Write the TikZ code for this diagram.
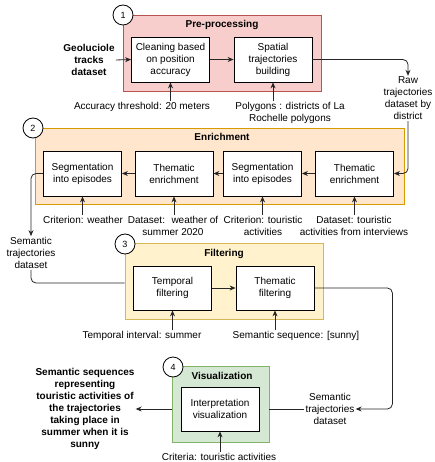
\documentclass[tikz,border=0pt]{standalone}
\usepackage{fontspec}
\setmainfont{Liberation Sans}
\usetikzlibrary{arrows.meta,calc}
\definecolor{prefill}{HTML}{F8CECC}\definecolor{predraw}{HTML}{B85450}
\definecolor{enrfill}{HTML}{FFE6CC}\definecolor{enrdraw}{HTML}{D79B00}
\definecolor{filfill}{HTML}{FFF2CC}\definecolor{fildraw}{HTML}{D6B656}
\definecolor{visfill}{HTML}{D5E8D4}\definecolor{visdraw}{HTML}{82B366}
\tikzset{
  grp/.style={draw=#1draw, fill=#1fill, line width=0.7pt, minimum width=198pt, minimum height=76pt, inner sep=0pt},
  proc/.style={draw=black, fill=white, line width=0.8pt, minimum width=78pt, minimum height=45pt, align=center, inner sep=1pt, font=\fontsize{10}{12}\selectfont},
  lbl/.style={align=center, inner sep=1pt, font=\fontsize{10}{12}\selectfont},
  blbl/.style={align=center, inner sep=1pt, font=\fontsize{10}{12}\selectfont\bfseries},
  ttl/.style={inner sep=0pt, font=\fontsize{10}{12}\selectfont\bfseries},
  num/.style={circle, draw=black, fill=white, line width=0.8pt, minimum size=20pt, inner sep=0pt, font=\fontsize{9}{10}\selectfont},
  arr/.style={draw=black!85, line width=0.8pt, -{Stealth[length=6pt,width=5pt]}, rounded corners=5pt},
  ln/.style={draw=black!85, line width=0.8pt, rounded corners=5pt}
}
\begin{document}
\begin{tikzpicture}[x=1pt,y=-1pt]
\useasboundingbox (0,0) rectangle (434,462);
% groups
\node[grp=pre] (pre) at (222,53) {};
\node[grp=enr, minimum width=369pt] (enr) at (219.5,166) {};
\node[grp=fil] (fil) at (224,281) {};
\node[grp=vis, minimum width=97pt] (vis) at (220.5,404) {};
% titles
\node[ttl] (t1) at (222,25) {Pre-processing};
\node[ttl] (t2) at (222,137) {Enrichment};
\node[ttl] (t3) at (224,254) {Filtering};
\node[ttl] (t4) at (222,376) {Visualization};
% numbers
\node[num] (n1) at (123,15) {1};
\node[num] (n2) at (33,128) {2};
\node[num] (n3) at (125,244) {3};
\node[num] (n4) at (173,367) {4};
% boxes
\node[proc] (clean) at (170.5,59.5) {Cleaning based\\on position\\accuracy};
\node[proc] (spat) at (273,59.5) {Spatial\\trajectories\\building};
\node[proc] (A) at (82.5,173.5) {Segmentation\\into episodes};
\node[proc] (B) at (174,173.5) {Thematic\\enrichment};
\node[proc] (C) at (262.5,173.5) {Segmentation\\into episodes};
\node[proc] (D) at (354.5,173.5) {Thematic\\enrichment};
\node[proc, minimum height=44pt] (tf) at (172.5,288) {Temporal\\filtering};
\node[proc, minimum height=44pt] (thf) at (275,288) {Thematic\\filtering};
\node[proc, minimum height=44pt] (iv) at (220,409) {Interpretation\\visualization};
% labels
\node[blbl] (geo) at (89,60) {Geoluciole\\tracks\\dataset};
\node[lbl] (acc) at (142,107) {Accuracy threshold: 20 meters};
\node[lbl] (poly) at (290,112.5) {Polygons : districts of La\\Rochelle polygons};
\node[lbl] (raw) at (408,98.5) {Raw\\trajectories\\dataset by\\district};
\node[lbl] (cw) at (83,220) {Criterion: weather};
\node[lbl] (dw) at (173,226) {Dataset:~ weather of\\summer 2020};
\node[lbl] (ct) at (263,226) {Criterion: touristic\\activities};
\node[lbl] (dt) at (354,226) {Dataset: touristic\\activities from interviews};
\node[lbl] (sem1) at (31,253) {Semantic\\trajectories\\dataset};
\node[lbl] (ti) at (142,336) {Temporal interval: summer};
\node[lbl] (ss) at (296,336) {Semantic sequence: [sunny]};
\node[lbl] (sem2) at (330,409) {Semantic\\trajectories\\dataset};
\node[blbl] (res) at (85,409) {Semantic sequences\\representing\\touristic activities of\\the trajectories\\taking place in\\summer when it is\\sunny};
\node[lbl] (crit) at (219,457) {Criteria: touristic activities};
% connectors
\draw[arr] (geo.east) -- (clean.west);
\draw[arr] (clean.east) -- (spat.west);
\draw[arr] (clean.south |- acc.north) -- (clean.south);
\draw[arr] (spat.south |- poly.north) -- (spat.south);
\draw[arr] (spat.east) -| (raw.north);
\draw[arr] (raw.south) |- (D.east);
\draw[arr] (D.west) -- (C.east);
\draw[arr] (C.west) -- (B.east);
\draw[arr] (B.west) -- (A.east);
\draw[arr] (A.south |- cw.north) -- (A.south);
\draw[arr] (B.south |- dw.north) -- (B.south);
\draw[arr] (C.south |- ct.north) -- (C.south);
\draw[arr] (D.south |- dt.north) -- (D.south);
\draw[arr] (A.west) -| (sem1.north);
\coordinate (fin) at ($(fil.west)+(0,2)$);
\draw[ln] (sem1.south) |- (fin);
\draw[arr] (tf.east) -- (thf.west);
\draw[arr] (tf.south |- ti.north) -- (tf.south);
\draw[arr] (thf.south |- ss.north) -- (thf.south);
\coordinate (tr) at ($(thf.east)+(78,0)$);
\draw[arr] (thf.east) -- (tr) |- (sem2.east);
\coordinate (vw) at (iv.west -| vis.west);
\coordinate (ve) at (iv.east -| vis.east);
\draw[arr] (vw) -- (res.east);
\draw[ln] (sem2.west) -- (ve);
\draw[arr] (iv.south |- crit.north) -- (iv.south);
\end{tikzpicture}
\end{document}
